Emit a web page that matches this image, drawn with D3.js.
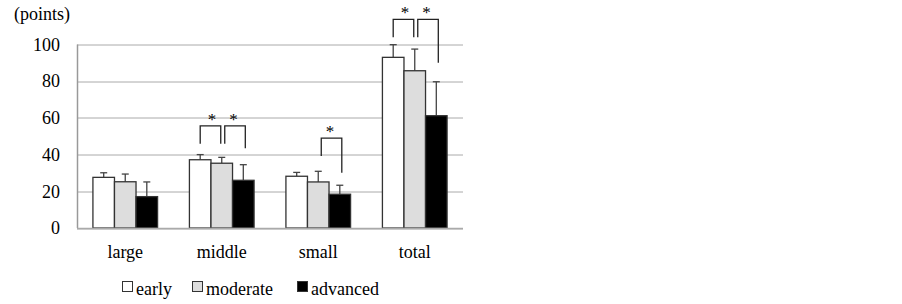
<!DOCTYPE html>
<html>
<head>
<meta charset="utf-8">
<script src="https://cdn.jsdelivr.net/npm/d3@7"></script>
<style>
  body { margin: 0; background: #fff; }
  svg text { font-family: "Liberation Serif", Tinos, "Times New Roman", Times, "DejaVu Serif", serif; fill: #000; }
</style>
</head>
<body>
<div id="chart"></div>
<script>
// data
var categories = ['large', 'middle', 'small', 'total'];
var seriesNames = ['early', 'moderate', 'advanced'];
var early    = [27.6, 37.2, 28.2, 93.0];
var moderate = [25.2, 35.3, 25.1, 85.7];
var advanced = [17.1, 26.0, 18.4, 61.2];
var earlyErr    = [2.5, 2.8, 2.1, 6.9];
var moderateErr = [4.2, 3.2, 5.8, 11.8];
var advancedErr = [8.0, 8.5, 4.9, 18.5];
var yTicks = [0, 20, 40, 60, 80, 100];
// significance brackets: category, from series, to series, top, left leg end, right leg end
var sigCat   = ['middle', 'middle', 'small', 'total', 'total'];
var sigFrom  = [0, 1, 1, 0, 1];
var sigTo    = [1, 2, 2, 1, 2];
var sigTop   = [55.7, 55.7, 49.0, 113.7, 113.7];
var sigLeft  = [45.9, 45.9, 39.2, 103.9, 103.9];
var sigRight = [45.9, 43.4, 30.1, 103.9, 90.0];

var W = 902, H = 304;
var margin = {left: 77, top: 44.5, right: 439, bottom: 76};
var width = W - margin.left - margin.right;
var height = H - margin.top - margin.bottom;
var serif = '"Liberation Serif", Tinos, "Times New Roman", Times, "DejaVu Serif", serif';

var fills = ['#ffffff', '#dddddd', '#000000'];
var values = [early, moderate, advanced];
var errs = [earlyErr, moderateErr, advancedErr];

var svg = d3.select('#chart').append('svg')
  .attr('width', W)
  .attr('height', H)
  .attr('font-family', serif);

var g = svg.append('g')
  .attr('transform', 'translate(' + margin.left + ',' + margin.top + ')');

var yScale = d3.scaleLinear().domain([0, 100]).range([height, 0]);
var xScale = d3.scaleBand().domain(categories).range([0, width])
  .paddingInner(0.33).paddingOuter(0.165);
var xSub = d3.scaleBand().domain([0, 1, 2]).range([0, xScale.bandwidth()]);

// gridlines
g.append('g').selectAll('line')
  .data(yTicks).enter().append('line')
  .attr('x1', 0)
  .attr('x2', width)
  .attr('y1', function(d) { return Math.round(yScale(d)) + 0.5; })
  .attr('y2', function(d) { return Math.round(yScale(d)) + 0.5; })
  .attr('style', 'stroke: #aaa; stroke-width: 1px');

// y axis line + labels
g.append('line')
  .attr('x1', 0.5).attr('x2', 0.5)
  .attr('y1', 0).attr('y2', height)
  .attr('style', 'stroke: #999; stroke-width: 1.5px');

var yAxis = g.append('g').call(d3.axisLeft(yScale).tickValues(yTicks).tickSize(0).tickPadding(17));
yAxis.attr('font-family', serif);
yAxis.select('.domain').remove();
yAxis.selectAll('text')
  .attr('font-size', 18)
  .attr('fill', '#000');

svg.append('text')
  .attr('x', 14)
  .attr('y', 20)
  .attr('font-size', 18)
  .text('(points)');

// bars
var groups = g.append('g').selectAll('g')
  .data(categories).enter().append('g')
  .attr('transform', function(d) { return 'translate(' + xScale(d) + ',0)'; });

for (let s = 0; s < 3; s++) {
  // error bars
  groups.append('line')
    .attr('x1', xSub(s) + xSub.bandwidth() / 2)
    .attr('x2', xSub(s) + xSub.bandwidth() / 2)
    .attr('y1', function(d, i) { return yScale(values[s][i]); })
    .attr('y2', function(d, i) { return yScale(values[s][i] + errs[s][i]); })
    .attr('style', 'stroke: #444; stroke-width: 1.3px');
  groups.append('line')
    .attr('x1', xSub(s) + xSub.bandwidth() / 2 - 3.5)
    .attr('x2', xSub(s) + xSub.bandwidth() / 2 + 3.5)
    .attr('y1', function(d, i) { return yScale(values[s][i] + errs[s][i]); })
    .attr('y2', function(d, i) { return yScale(values[s][i] + errs[s][i]); })
    .attr('style', 'stroke: #444; stroke-width: 1.3px');
  groups.append('rect')
    .attr('x', xSub(s))
    .attr('width', xSub.bandwidth())
    .attr('y', function(d, i) { return yScale(values[s][i]); })
    .attr('height', function(d, i) { return height - yScale(values[s][i]); })
    .attr('style', 'fill: ' + fills[s] + '; stroke: #333; stroke-width: 1.3px');
}

// bottom line
g.append('line')
  .attr('x1', 0).attr('x2', width)
  .attr('y1', height + 0.5).attr('y2', height + 0.5)
  .attr('style', 'stroke: #aaa; stroke-width: 1.5px');

// category labels
g.append('g').selectAll('text')
  .data(categories).enter().append('text')
  .attr('x', function(d) { return xScale(d) + xScale.bandwidth() / 2; })
  .attr('y', height + 30)
  .attr('text-anchor', 'middle')
  .attr('font-size', 18)
  .text(function(d) { return d; });

// significance brackets
var sig = sigCat.map(function(c, i) {
  return {cat: c, from: sigFrom[i], to: sigTo[i], top: sigTop[i], left: sigLeft[i], right: sigRight[i]};
});
var brk = g.append('g').selectAll('g')
  .data(sig).enter().append('g');
brk.append('path')
  .attr('d', function(d) {
    var x1 = xScale(d.cat) + xSub(d.from) + xSub.bandwidth() / 2 + (d.from == 0 ? 0 : 3);
    var x2 = xScale(d.cat) + xSub(d.to) + xSub.bandwidth() / 2 + (d.to == 1 ? -1 : 2);
    return 'M' + x1 + ',' + yScale(d.left) + 'V' + yScale(d.top) + 'H' + x2 + 'V' + yScale(d.right);
  })
  .attr('style', 'fill: none; stroke: #222; stroke-width: 1.3px');
brk.append('text')
  .attr('x', function(d) {
    var x1 = xScale(d.cat) + xSub(d.from) + xSub.bandwidth() / 2;
    var x2 = xScale(d.cat) + xSub(d.to) + xSub.bandwidth() / 2;
    return (x1 + x2) / 2 + 1;
  })
  .attr('y', function(d) { return yScale(d.top) - 1; })
  .attr('text-anchor', 'middle')
  .attr('font-size', 17)
  .text('*');

// legend
var legX = [122, 192, 297];
var leg = svg.append('g').selectAll('g')
  .data(seriesNames).enter().append('g')
  .attr('transform', function(d, i) { return 'translate(' + legX[i] + ',281)'; });
leg.append('rect')
  .attr('x', 0.5).attr('y', 0.5)
  .attr('width', 10).attr('height', 10)
  .attr('style', function(d, i) { return 'fill: ' + fills[i] + '; stroke: #333; stroke-width: 1px'; });
leg.append('text')
  .attr('x', 14)
  .attr('y', 14)
  .attr('font-size', 18)
  .text(function(d) { return d; });
</script>
</body>
</html>
